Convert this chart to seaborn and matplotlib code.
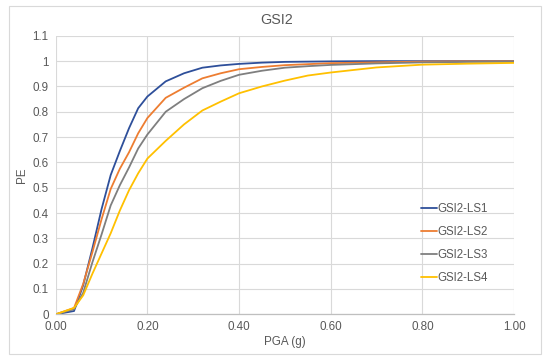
import matplotlib
matplotlib.use("Agg")
import matplotlib.pyplot as plt
import seaborn as sns
import pandas as pd
from matplotlib.patches import Rectangle

pga = [0.00, 0.04, 0.06, 0.08, 0.10, 0.12, 0.14, 0.16, 0.18, 0.20, 0.24, 0.28,
       0.32, 0.36, 0.40, 0.45, 0.50, 0.55, 0.60, 0.70, 0.80, 0.90, 1.00]
ls1 = [0.0, 0.013, 0.115, 0.26, 0.415, 0.55, 0.645, 0.735, 0.814, 0.86, 0.92, 0.952,
       0.974, 0.983, 0.989, 0.994, 0.997, 0.998, 0.999, 1.0, 1.0, 1.0, 1.0]
ls2 = [0.0, 0.025, 0.12, 0.245, 0.375, 0.495, 0.575, 0.64, 0.715, 0.775, 0.855, 0.895,
       0.932, 0.952, 0.968, 0.977, 0.984, 0.988, 0.992, 0.995, 0.998, 0.999, 0.999]
ls3 = [0.0, 0.02, 0.085, 0.205, 0.315, 0.43, 0.51, 0.58, 0.655, 0.71, 0.80, 0.85,
       0.893, 0.922, 0.946, 0.962, 0.974, 0.98, 0.985, 0.991, 0.995, 0.997, 0.998]
ls4 = [0.0, 0.025, 0.075, 0.16, 0.24, 0.32, 0.41, 0.49, 0.557, 0.615, 0.685, 0.75,
       0.805, 0.84, 0.873, 0.90, 0.923, 0.943, 0.955, 0.975, 0.986, 0.99, 0.993]
series_names = ["GSI2-LS1", "GSI2-LS2", "GSI2-LS3", "GSI2-LS4"]
colors = ["#2E4F9A", "#ED7D31", "#7F7F7F", "#FFC000"]
x_ticks = [0.0, 0.2, 0.4, 0.6, 0.8, 1.0]
x_ticklabels = ["0.00", "0.20", "0.40", "0.60", "0.80", "1.00"]
y_ticks = [0.0, 0.1, 0.2, 0.3, 0.4, 0.5, 0.6, 0.7, 0.8, 0.9, 1.0, 1.1]
y_ticklabels = ["0", "0.1", "0.2", "0.3", "0.4", "0.5", "0.6", "0.7", "0.8", "0.9", "1", "1.1"]

frames = []
for name, vals in zip(series_names, [ls1, ls2, ls3, ls4]):
    frames.append(pd.DataFrame({"PGA": pga, "PE": vals, "series": name}))
df = pd.concat(frames, ignore_index=True)

sns.set_style("white")
plt.rcParams["font.family"] = ["Liberation Sans", "DejaVu Sans"]

W, H = 550, 361
fig = plt.figure(figsize=(W / 100, H / 100), dpi=100)
ax = fig.add_axes([55.7 / W, 1 - 314.3 / H, (514.0 - 55.7) / W, (314.3 - 35.8) / H])

sns.lineplot(data=df, x="PGA", y="PE", hue="series", palette=colors,
             estimator=None, sort=False, linewidth=1.3, ax=ax)

ax.set_xlim(0, 1.0)
ax.set_ylim(0, 1.1)
ax.set_xticks(x_ticks)
ax.set_xticklabels(x_ticklabels)
ax.set_yticks(y_ticks)
ax.set_yticklabels(y_ticklabels)
ax.tick_params(axis="both", length=0, labelsize=8.4, colors="#595959", pad=5)
ax.grid(True, color="#D9D9D9", linewidth=0.8)
ax.set_axisbelow(True)
for s in ["top", "right", "left"]:
    ax.spines[s].set_visible(False)
ax.spines["bottom"].set_color("#BFBFBF")
ax.spines["bottom"].set_linewidth(0.9)

ax.set_xlabel("PGA (g)", fontsize=8.4, color="#595959", labelpad=2)
ax.set_ylabel("PE", fontsize=8.4, color="#595959", labelpad=3)

fig.text(277 / W, 1 - 20 / H, "GSI2", ha="center", va="center", fontsize=10.3, color="#595959")

handles, labels = ax.get_legend_handles_labels()
ax.legend(handles, labels, loc="center left", bbox_to_anchor=(421 / W, 1 - 243.7 / H),
          bbox_transform=fig.transFigure, frameon=False, fontsize=8.3,
          labelspacing=0.95, handlelength=1.35, handletextpad=0.1, borderpad=0,
          borderaxespad=0, labelcolor="#595959")

fig.patches.append(Rectangle((8.8 / W, 1 - 354 / H), (541 - 8.8) / W, (354 - 5.7) / H,
                             transform=fig.transFigure, fill=False, edgecolor="#D9D9D9",
                             linewidth=0.8))

fig.savefig("out.png", dpi=100)
